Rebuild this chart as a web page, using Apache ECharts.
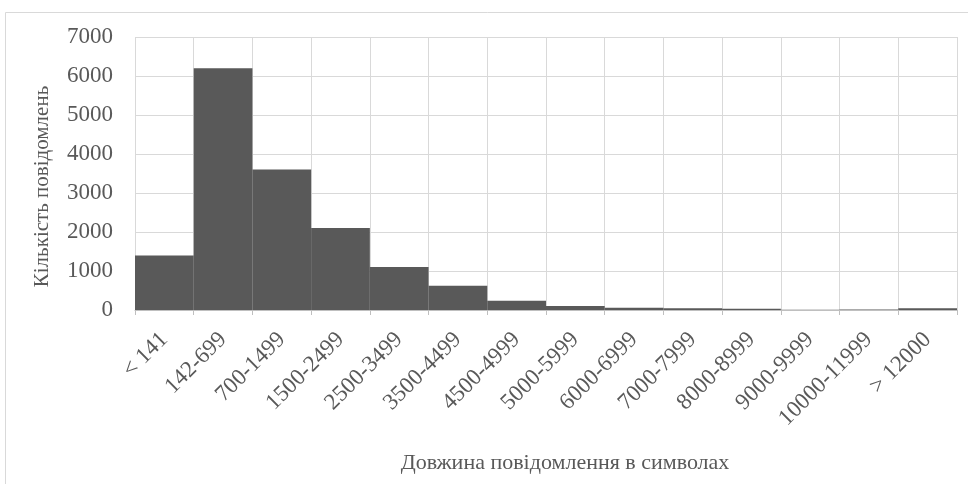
<!DOCTYPE html>
<html>
<head>
<meta charset="utf-8">
<script src="https://cdn.jsdelivr.net/npm/echarts@6/dist/echarts.min.js"></script>
<style>
  html, body { margin: 0; padding: 0; background: #fff; }
  #chart { width: 968px; height: 484px; }
</style>
</head>
<body>
<div id="chart"></div>
<script>
// Message-length bins (characters) and message counts per bin
const categories = ['< 141', '142-699', '700-1499', '1500-2499', '2500-3499', '3500-4499',
  '4500-4999', '5000-5999', '6000-6999', '7000-7999', '8000-8999', '9000-9999',
  '10000-11999', '> 12000'];
const counts = [1400, 6200, 3600, 2100, 1100, 620, 240, 100, 60, 45, 30, 8, 10, 45];
const yTicks = { min: 0, max: 7000, step: 1000 };

const xTitle = 'Довжина повідомлення в символах';
const yTitle = 'Кількість повідомлень';

const font = '"Liberation Serif", "DejaVu Serif", serif';
const textColor = '#595959';
const gridColor = '#d9d9d9';

const chart = echarts.init(document.getElementById('chart'));
chart.setOption({
  animation: false,
  backgroundColor: '#ffffff',
  graphic: [{
    type: 'rect',
    shape: { x: 5.5, y: 12.5, width: 980, height: 500 },
    style: { fill: 'none', stroke: gridColor, lineWidth: 1 },
    silent: true
  }],
  grid: { left: 135, right: 11, top: 37, bottom: 174 },
  xAxis: {
    type: 'category',
    data: categories,
    boundaryGap: true,
    axisLine: { show: true, lineStyle: { color: '#bfbfbf', width: 1 } },
    axisTick: { show: true, length: 5, interval: 0, lineStyle: { color: '#bfbfbf' } },
    splitLine: { show: true, interval: 0, lineStyle: { color: gridColor, width: 1 } },
    axisLabel: {
      interval: 0, rotate: 45, margin: 26,
      fontFamily: font, fontSize: 23, color: textColor
    },
    name: xTitle,
    nameLocation: 'middle',
    nameGap: 142,
    nameTextStyle: { fontFamily: font, fontSize: 22, color: textColor, padding: [0, 0, 0, 38] }
  },
  yAxis: {
    type: 'value',
    min: yTicks.min, max: yTicks.max, interval: yTicks.step,
    axisLine: { show: false },
    axisTick: { show: false },
    splitLine: { show: true, lineStyle: { color: gridColor, width: 1 } },
    axisLabel: {
      margin: 22, fontFamily: font, fontSize: 23, color: textColor,
      formatter: (v) => String(v)
    },
    name: yTitle,
    nameLocation: 'middle',
    nameRotate: 90,
    nameGap: 82,
    nameTextStyle: { fontFamily: font, fontSize: 21, color: textColor, padding: [0, 26, 0, 0] }
  },
  series: [{
    type: 'bar',
    data: counts,
    barCategoryGap: '0%',
    itemStyle: { color: '#595959' }
  }]
});
</script>
</body>
</html>
